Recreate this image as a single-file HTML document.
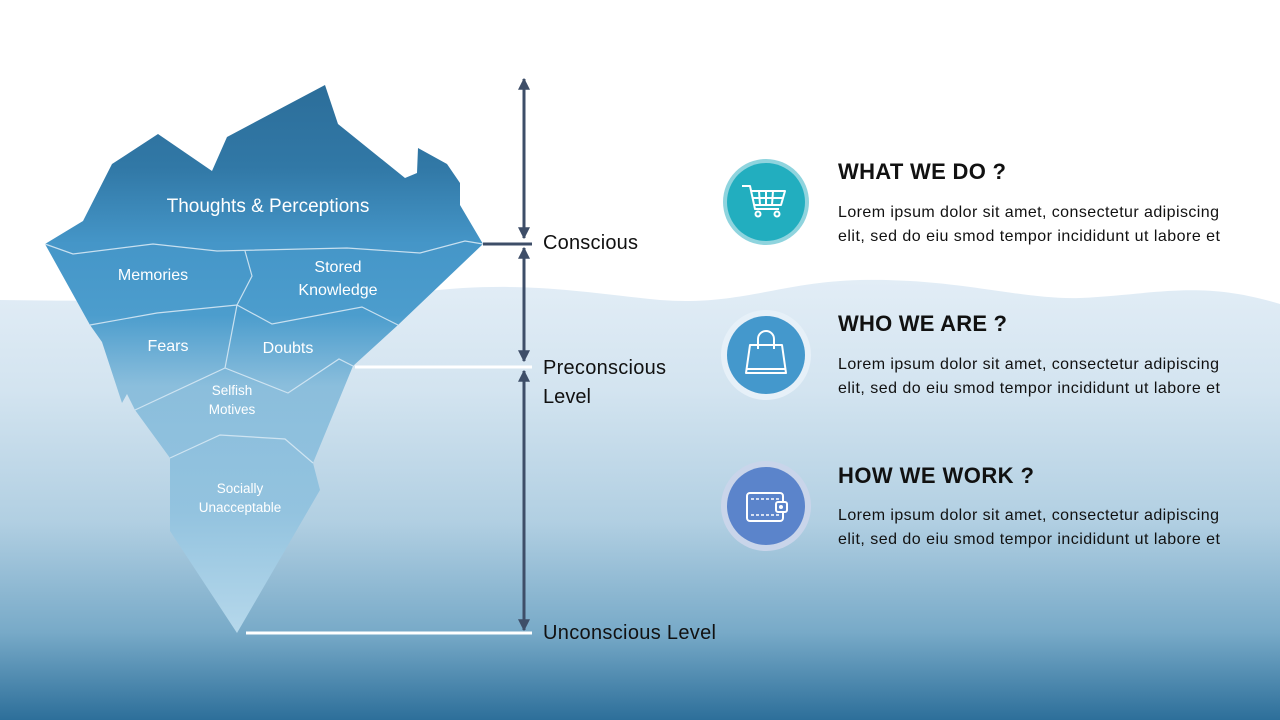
<!DOCTYPE html>
<html><head><meta charset="utf-8"><style>
html,body{margin:0;padding:0;background:#fff}
svg{display:block}
text{font-family:"Liberation Sans","DejaVu Sans",sans-serif}
</style></head><body>
<svg width="1280" height="720" viewBox="0 0 1280 720" xmlns="http://www.w3.org/2000/svg">
<defs>
<linearGradient id="water" x1="0" y1="280" x2="0" y2="720" gradientUnits="userSpaceOnUse">
<stop offset="0" stop-color="#e2edf6"/>
<stop offset="0.25" stop-color="#d3e4f0"/>
<stop offset="0.55" stop-color="#b1cfe2"/>
<stop offset="0.8" stop-color="#78aac8"/>
<stop offset="1" stop-color="#2d6f9a"/>
</linearGradient>
<linearGradient id="ice" x1="0" y1="85" x2="0" y2="633" gradientUnits="userSpaceOnUse">
<stop offset="0" stop-color="#2c6e9a"/>
<stop offset="0.15" stop-color="#3178a6"/>
<stop offset="0.29" stop-color="#4596c8"/>
<stop offset="0.42" stop-color="#4c9dcd"/>
<stop offset="0.55" stop-color="#8bbedc"/>
<stop offset="0.78" stop-color="#93c3df"/>
<stop offset="1" stop-color="#b6d8eb"/>
</linearGradient>
<marker id="ar" viewBox="0 0 10 10" refX="9" refY="5" markerWidth="4" markerHeight="4" orient="auto-start-reverse">
<path d="M0,0 L10,5 L0,10 z" fill="#3e4e68"/>
</marker>
</defs>
<rect width="1280" height="720" fill="#fff"/>
<path d="M0,300 C120,302 300,300 420,292 C520,280 580,292 660,300 C740,306 780,282 860,280 C960,278 1020,300 1080,298 C1160,294 1200,280 1280,304 L1280,720 L0,720 Z" fill="url(#water)"/>

<path d="M45,244 L83,221 L112,164 L158,134 L212,171 L227,137 L325,85 L338,124 L405,178 L417,173 L418,148 L447,164 L460,183 L460,205 L483,244 L398,325 L353,366 L313,463 L320,490 L237,633 L170,531 L170,458 L135,410 L127,394 L122,403 L102,342 L90,325 Z" fill="url(#ice)"/>
<g fill="none" stroke="#d6e8f4" stroke-width="1.2" opacity="0.9">
<polyline points="45,244 73,254 153,244 217,251 347,248 420,253 465,241 483,244"/>
<polyline points="245,251 252,276 237,305"/>
<polyline points="90,325 157,313 237,305 272,324 362,307 398,325"/>
<polyline points="237,305 225,368"/>
<polyline points="135,410 225,368 288,393 339,359 353,366"/>
<polyline points="170,458 220,435 285,439 313,463"/>
</g>
<g fill="#fff" text-anchor="middle">
<text x="268" y="212" font-size="19">Thoughts &amp; Perceptions</text>
<text x="153" y="280" font-size="16">Memories</text>
<text x="338" y="272" font-size="16">Stored</text>
<text x="338" y="295" font-size="16">Knowledge</text>
<text x="168" y="351" font-size="16">Fears</text>
<text x="288" y="353" font-size="16">Doubts</text>
<text x="232" y="395" font-size="13.5">Selfish</text>
<text x="232" y="414" font-size="13.5">Motives</text>
<text x="240" y="493" font-size="13.5">Socially</text>
<text x="240" y="512" font-size="13.5">Unacceptable</text>
</g>

<line x1="483" y1="244" x2="532" y2="244" stroke="#3e4e68" stroke-width="3"/>
<line x1="355" y1="367" x2="532" y2="367" stroke="#fff" stroke-width="3"/>
<line x1="246" y1="633" x2="532" y2="633" stroke="#fff" stroke-width="3"/>
<g stroke="#3e4e68" stroke-width="3" marker-start="url(#ar)" marker-end="url(#ar)">
<line x1="524" y1="79" x2="524" y2="238"/>
<line x1="524" y1="248" x2="524" y2="361"/>
<line x1="524" y1="371" x2="524" y2="630"/>
</g>
<g fill="#111" font-size="20">
<text x="543" y="249" textLength="95">Conscious</text>
<text x="543" y="374" textLength="123">Preconscious</text>
<text x="543" y="403" textLength="48">Level</text>
<text x="543" y="639" textLength="173">Unconscious Level</text>
</g>

<circle cx="766" cy="202" r="43" fill="#8fd4de"/>
<circle cx="766" cy="202" r="39" fill="#22aebf"/>
<circle cx="766" cy="355" r="45" fill="#e6f0f8"/>
<circle cx="766" cy="355" r="39" fill="#4498cc"/>
<circle cx="766" cy="506" r="45" fill="#c9d5ea"/>
<circle cx="766" cy="506" r="39" fill="#5b84cb"/>
<g fill="none" stroke="#fff" stroke-width="2" stroke-linejoin="round">
<path d="M742,186 L750,186 L755,209 L779,209"/>
<path d="M751,191 L785,191 L781,205 L754,205"/>
<path d="M759,191 L760,205 M766,191 L766,205 M773,191 L772,205 M752,198 L783,198"/>
<circle cx="758" cy="214" r="2.5"/><circle cx="777" cy="214" r="2.5"/>
</g>
<g fill="none" stroke="#fff" stroke-width="2" stroke-linejoin="round">
<path d="M750,345 L782,345 L786,373 L746,373 Z"/>
<path d="M746,369 L786,369"/>
<path d="M758,349 L758,339 A8,8 0 0 1 774,339 L774,349"/>
</g>
<g fill="none" stroke="#fff" stroke-width="2" stroke-linejoin="round">
<rect x="747" y="493" width="36" height="28" rx="3"/>
<path d="M751,499 L779,499 M751,515 L779,515" stroke-dasharray="3 2" stroke-width="1.5"/>
<rect x="776" y="502" width="11" height="10" rx="2" fill="#5b84cb"/>
<circle cx="781" cy="507" r="1" fill="#fff"/>
</g>

<g fill="#111">
<text x="838" y="179" font-size="22" font-weight="bold" textLength="168">WHAT WE DO ?</text>
<text x="838" y="217" font-size="16" textLength="381">Lorem ipsum dolor sit amet, consectetur adipiscing</text>
<text x="838" y="241" font-size="16" textLength="382">elit, sed do eiu smod tempor incididunt ut labore et</text>
<text x="838" y="331" font-size="22" font-weight="bold" textLength="169">WHO WE ARE ?</text>
<text x="838" y="369" font-size="16" textLength="381">Lorem ipsum dolor sit amet, consectetur adipiscing</text>
<text x="838" y="393" font-size="16" textLength="382">elit, sed do eiu smod tempor incididunt ut labore et</text>
<text x="838" y="483" font-size="22" font-weight="bold" textLength="196">HOW WE WORK ?</text>
<text x="838" y="520" font-size="16" textLength="381">Lorem ipsum dolor sit amet, consectetur adipiscing</text>
<text x="838" y="544" font-size="16" textLength="382">elit, sed do eiu smod tempor incididunt ut labore et</text>
</g>
</svg>
</body></html>
